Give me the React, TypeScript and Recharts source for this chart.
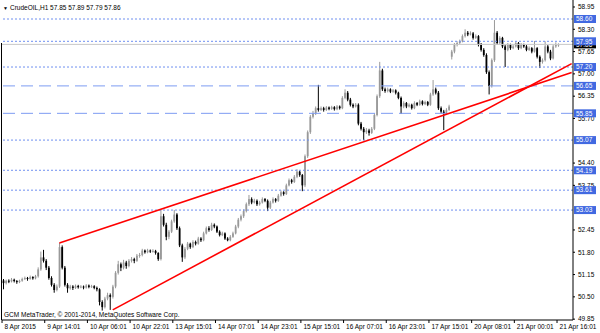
import { ComposedChart, Bar, XAxis, YAxis, ReferenceLine } from "recharts";

// CrudeOIL H1 candles
const OPEN = [
  50.98, 50.9, 50.97, 50.95, 51.0, 50.96, 50.93, 50.97, 51.02, 51.05,
  51.02, 51.08, 51.04, 51.1, 51.3, 51.65, 51.55, 51.35, 51.05, 50.85,
  50.7, 50.8, 51.95, 51.35, 50.85, 50.75, 50.8, 50.76, 50.82, 50.78,
  50.8, 50.77, 50.83, 50.79, 50.81, 50.76, 50.72, 50.35, 50.2, 50.45,
  50.55, 50.5, 50.8, 51.2, 51.45, 51.35, 51.5, 51.4, 51.55, 51.6,
  51.55, 51.7, 51.72, 51.85, 51.8, 51.85, 51.82, 51.84, 51.78, 51.6,
  52.85, 52.6, 52.25, 52.4, 52.7, 52.9, 52.5, 52.0, 51.65, 51.9,
  52.05, 51.95, 52.1, 52.05, 52.2, 52.15, 52.35, 52.5, 52.45, 52.6,
  52.55, 52.4, 52.3, 52.35, 52.2, 52.15, 52.25, 52.35, 52.55, 52.75,
  52.85, 53.0, 53.2, 53.35, 53.25, 53.3, 53.2, 53.25, 53.35, 53.3,
  53.1, 53.25, 53.35, 53.3, 53.45, 53.55, 53.5, 53.75, 53.9, 53.85,
  54.0, 54.15, 54.05, 53.75, 54.6, 55.3, 55.75, 55.85, 56.0, 55.95,
  56.0, 55.95, 56.02, 55.98, 56.03, 55.97, 56.05, 56.0, 56.3, 56.45,
  56.25, 56.1, 56.05, 56.1, 55.55, 55.4, 55.3, 55.35, 55.28, 55.4,
  55.8, 56.35, 57.1, 56.55, 56.5, 56.55, 56.48, 56.52, 56.45, 56.3,
  56.05, 56.15, 56.05, 56.1, 56.0, 56.15, 56.1, 56.2, 56.12, 56.18,
  56.1, 56.4, 56.55, 56.45, 56.0, 55.9, 55.85, 55.95, 57.5, 57.65,
  57.85, 57.9, 57.95, 58.1, 58.2, 58.15, 58.18, 58.05, 58.1, 57.85,
  57.7, 57.55, 57.05, 56.65, 57.4, 58.2, 57.9, 58.05, 57.8, 57.7,
  57.85, 57.75, 57.8, 57.9, 57.75, 57.85, 57.8, 57.7, 57.75, 57.65,
  57.75, 57.5, 57.35, 57.4, 57.8, 57.65, 57.45, 57.8, 57.85,
];
const HIGH = [
  51.02, 51.0, 51.01, 51.05, 51.03, 50.99, 51.0, 51.06, 51.09, 51.08,
  51.12, 51.1, 51.14, 51.36, 51.82, 51.87, 51.6, 51.4, 51.1, 50.9,
  50.86, 52.07, 52.0, 51.4, 50.9, 50.85, 50.84, 50.86, 50.85, 50.84,
  50.83, 50.87, 50.86, 50.85, 50.84, 50.8, 50.75, 50.4, 50.5, 50.62,
  50.6, 50.85, 51.25, 51.55, 51.5, 51.58, 51.55, 51.6, 51.66, 51.64,
  51.75, 51.78, 51.9, 51.88, 51.9, 51.88, 51.89, 51.87, 51.8, 53.03,
  52.92, 52.66, 52.45, 52.75, 53.03, 52.94, 52.55, 52.05, 51.95, 52.1,
  52.08, 52.15, 52.14, 52.25, 52.24, 52.4, 52.55, 52.56, 52.66, 52.64,
  52.58, 52.44, 52.4, 52.38, 52.24, 52.3, 52.4, 52.6, 52.8, 52.9,
  53.05, 53.25, 53.47, 53.4, 53.36, 53.34, 53.3, 53.4, 53.38, 53.34,
  53.3, 53.4, 53.38, 53.5, 53.6, 53.58, 53.8, 53.95, 53.94, 54.05,
  54.22, 54.18, 54.08, 54.65, 55.35, 55.8, 55.92, 56.05, 56.68, 56.05,
  56.04, 56.06, 56.05, 56.07, 56.06, 56.09, 56.08, 56.35, 56.55, 56.5,
  56.3, 56.14, 56.15, 56.14, 55.6, 55.45, 55.42, 55.4, 55.45, 55.85,
  56.4, 57.35, 57.15, 56.6, 56.6, 56.58, 56.56, 56.55, 56.48, 56.34,
  56.2, 56.18, 56.14, 56.13, 56.2, 56.18, 56.25, 56.23, 56.22, 56.21,
  56.45, 56.82, 56.6, 56.5, 56.05, 55.95, 56.0, 56.1, 57.7, 57.9,
  57.95, 58.0, 58.15, 58.3, 58.25, 58.24, 58.22, 58.15, 58.13, 57.9,
  57.75, 57.6, 57.1, 57.45, 58.57, 58.25, 58.1, 58.08, 57.85, 57.9,
  57.88, 57.85, 57.95, 57.93, 57.9, 57.88, 57.84, 57.8, 57.78, 57.96,
  57.78, 57.54, 57.45, 57.95, 57.84, 57.7, 57.85, 57.92, 57.89,
];
const LOW = [
  50.72, 50.86, 50.9, 50.92, 50.92, 50.88, 50.9, 50.94, 50.99, 50.97,
  51.0, 51.0, 51.01, 51.06, 51.26, 51.5, 51.28, 51.0, 50.8, 50.62,
  50.66, 50.76, 51.3, 50.8, 50.62, 50.71, 50.7, 50.73, 50.74, 50.75,
  50.72, 50.74, 50.75, 50.76, 50.72, 50.66, 50.25, 50.1, 50.16, 50.4,
  50.12, 50.45, 50.75, 51.15, 51.25, 51.3, 51.32, 51.36, 51.5, 51.48,
  51.52, 51.64, 51.68, 51.76, 51.77, 51.78, 51.79, 51.73, 51.55, 51.56,
  52.55, 52.15, 52.18, 52.36, 52.66, 52.45, 51.95, 51.52, 51.6, 51.86,
  51.9, 51.92, 52.0, 52.02, 52.1, 52.12, 52.32, 52.4, 52.42, 52.5,
  52.36, 52.26, 52.27, 52.16, 52.12, 52.12, 52.22, 52.32, 52.5, 52.7,
  52.8, 52.96, 53.15, 53.2, 53.22, 53.15, 53.16, 53.22, 53.26, 53.0,
  53.06, 53.22, 53.25, 53.27, 53.42, 53.45, 53.47, 53.72, 53.8, 53.82,
  53.96, 54.0, 53.58, 53.7, 54.55, 55.25, 55.7, 55.8, 55.9, 55.92,
  55.9, 55.92, 55.94, 55.95, 55.93, 55.94, 55.96, 55.97, 56.26, 56.2,
  56.05, 56.0, 56.02, 55.5, 55.35, 55.07, 55.25, 55.2, 55.25, 55.36,
  55.76, 56.3, 56.5, 56.45, 56.46, 56.44, 56.45, 56.4, 56.26, 55.83,
  56.0, 56.0, 56.02, 55.96, 55.97, 56.06, 56.07, 56.08, 56.09, 56.06,
  56.07, 56.36, 56.4, 55.95, 55.85, 55.36, 55.8, 55.92, 57.42, 57.6,
  57.8, 57.86, 57.92, 58.06, 58.1, 58.12, 58.0, 58.02, 57.8, 57.65,
  57.5, 57.0, 56.4, 56.6, 57.35, 57.85, 57.86, 57.75, 57.2, 57.66,
  57.7, 57.72, 57.77, 57.7, 57.72, 57.76, 57.66, 57.67, 57.6, 57.62,
  57.45, 57.17, 57.3, 57.36, 57.6, 57.4, 57.42, 57.76, 57.79,
];
const CLOSE = [
  50.9, 50.97, 50.95, 51.0, 50.96, 50.93, 50.97, 51.02, 51.05, 51.02,
  51.08, 51.04, 51.1, 51.3, 51.65, 51.55, 51.35, 51.05, 50.85, 50.7,
  50.8, 51.95, 51.35, 50.85, 50.75, 50.8, 50.76, 50.82, 50.78, 50.8,
  50.77, 50.83, 50.79, 50.81, 50.76, 50.72, 50.35, 50.2, 50.45, 50.55,
  50.5, 50.8, 51.2, 51.45, 51.35, 51.5, 51.4, 51.55, 51.6, 51.55,
  51.7, 51.72, 51.85, 51.8, 51.85, 51.82, 51.84, 51.78, 51.6, 52.85,
  52.6, 52.25, 52.4, 52.7, 52.9, 52.5, 52.0, 51.65, 51.9, 52.05,
  51.95, 52.1, 52.05, 52.2, 52.15, 52.35, 52.5, 52.45, 52.6, 52.55,
  52.4, 52.3, 52.35, 52.2, 52.15, 52.25, 52.35, 52.55, 52.75, 52.85,
  53.0, 53.2, 53.35, 53.25, 53.3, 53.2, 53.25, 53.35, 53.3, 53.1,
  53.25, 53.35, 53.3, 53.45, 53.55, 53.5, 53.75, 53.9, 53.85, 54.0,
  54.15, 54.05, 53.75, 54.6, 55.3, 55.75, 55.85, 56.0, 55.95, 56.0,
  55.95, 56.02, 55.98, 56.03, 55.97, 56.05, 56.0, 56.3, 56.45, 56.25,
  56.1, 56.05, 56.1, 55.55, 55.4, 55.3, 55.35, 55.28, 55.4, 55.8,
  56.35, 57.1, 56.55, 56.5, 56.55, 56.48, 56.52, 56.45, 56.3, 56.05,
  56.15, 56.05, 56.1, 56.0, 56.15, 56.1, 56.2, 56.12, 56.18, 56.1,
  56.4, 56.55, 56.45, 56.0, 55.9, 55.85, 55.95, 56.05, 57.65, 57.85,
  57.9, 57.95, 58.1, 58.2, 58.15, 58.18, 58.05, 58.1, 57.85, 57.7,
  57.55, 57.05, 56.65, 57.4, 58.2, 57.9, 58.05, 57.8, 57.7, 57.85,
  57.75, 57.8, 57.9, 57.75, 57.85, 57.8, 57.7, 57.75, 57.65, 57.75,
  57.5, 57.35, 57.4, 57.8, 57.65, 57.45, 57.8, 57.85, 57.86,
];

// one label every 16 bars
const TIME_LABELS = [
  "8 Apr 2015", "9 Apr 14:01", "10 Apr 06:01", "10 Apr 22:01", "13 Apr 15:01",
  "14 Apr 07:01", "14 Apr 23:01", "15 Apr 15:01", "16 Apr 07:01", "16 Apr 23:01",
  "17 Apr 15:01", "20 Apr 08:01", "21 Apr 00:01", "21 Apr 16:01",
];
const PRICE_TICKS = [58.95, 58.3, 57.65, 57.0, 56.35, 55.7, 54.4, 53.75, 52.45, 51.8, 51.15, 50.5, 49.85];
const DOTTED_LEVELS = [58.6, 57.95, 57.2, 55.07, 54.19, 53.61, 53.03];
const DASHED_LEVELS = [56.65, 55.85];
const LAST_PRICE = 57.86;
const TREND_UPPER = [{ bar: 21, price: 52.07 }, { bar: 213, price: 57.04 }];
const TREND_LOWER = [{ bar: 41, price: 50.12 }, { bar: 213, price: 57.3 }];
const EMPTY_BARS = 5; // chart shift on the right

const data = [
  ...OPEN.map((o, i) => ({ i, o, h: HIGH[i], l: LOW[i], c: CLOSE[i], range: [LOW[i], HIGH[i]] })),
  ...Array.from({ length: EMPTY_BARS }, (_, k) => ({ i: OPEN.length + k })),
];

const FONT = "Liberation Sans, Arial, sans-serif";
const LEVELS = [...DOTTED_LEVELS, ...DASHED_LEVELS];

function Candle(props: any) {
  const { x, y, width, height, payload } = props;
  if (!payload || payload.h == null) return null;
  const { o, h, l, c } = payload;
  const k = h > l ? height / (h - l) : 0;
  const cx = x + width / 2;
  const col = c >= o ? "#999999" : "#000000";
  const top = y + (h - Math.max(o, c)) * k;
  const bh = Math.max(Math.abs(c - o) * k, 1);
  return (
    <g>
      <line x1={cx} x2={cx} y1={y} y2={y + Math.max(height, 1)} stroke={col} strokeWidth={1} />
      <rect x={cx - 0.9} y={top} width={1.8} height={bh} fill={col} />
    </g>
  );
}

function TimeTick(props: any) {
  const { x, y, payload } = props;
  const label = TIME_LABELS[payload.value / 16];
  if (!label) return null;
  const tx = x - 1.3;
  return (
    <g>
      <line x1={tx} x2={tx} y1={y} y2={y + 3} stroke="#000" />
      <text x={tx + 2.5} y={y + 9} fontSize={6.5} fontFamily={FONT} fill="#000" textAnchor="start">
        {label}
      </text>
    </g>
  );
}

function PriceTick(props: any) {
  const { x, y, payload } = props;
  const v = payload.value;
  if (LEVELS.includes(v) || v === LAST_PRICE) {
    return (
      <g>
        <rect x={x + 1} y={y - 4} width={22} height={8} fill={v === LAST_PRICE ? "#000" : "#4169e1"} />
        <text x={x + 3} y={y + 2.3} fontSize={6.5} fontFamily={FONT} fill="#fff">
          {v.toFixed(2)}
        </text>
      </g>
    );
  }
  return (
    <g>
      <line x1={x} x2={x + 2} y1={y} y2={y} stroke="#000" />
      <text x={x + 5} y={y + 2.3} fontSize={6.5} fontFamily={FONT} fill="#000">
        {v.toFixed(2)}
      </text>
    </g>
  );
}

export default function App() {
  return (
    <div style={{ position: "fixed", left: 0, top: 0, width: 600, height: 333, background: "#fff" }}>
      <ComposedChart
        width={600}
        height={333}
        data={data}
        margin={{ top: 0, right: 0, bottom: 0, left: 2 }}
        barCategoryGap={0}
      >
        <XAxis
          dataKey="i"
          height={13}
          ticks={TIME_LABELS.map((_, k) => k * 16)}
          interval={0}
          tick={<TimeTick />}
          tickLine={false}
          tickSize={0}
          tickMargin={0}
          axisLine={{ stroke: "#000" }}
        />
        <YAxis
          orientation="right"
          width={27}
          type="number"
          domain={[49.825, 59.154]}
          allowDataOverflow
          ticks={[...PRICE_TICKS, LAST_PRICE, ...LEVELS]}
          interval={0}
          tick={<PriceTick />}
          tickLine={false}
          tickSize={0}
          tickMargin={0}
          axisLine={{ stroke: "#000" }}
        />
        <ReferenceLine y={LAST_PRICE} stroke="#c8c8c8" />
        {DOTTED_LEVELS.map((v) => (
          <ReferenceLine key={v} y={v} stroke="#6f8ff0" strokeDasharray="2 2" />
        ))}
        {DASHED_LEVELS.map((v) => (
          <ReferenceLine key={v} y={v} stroke="#7d9cf2" strokeDasharray="12 6" />
        ))}
        <Bar dataKey="range" shape={<Candle />} isAnimationActive={false} />
        <ReferenceLine
          segment={TREND_UPPER.map((p) => ({ x: p.bar, y: p.price }))}
          stroke="#ff0000"
          strokeWidth={1.6}
        />
        <ReferenceLine
          segment={TREND_LOWER.map((p) => ({ x: p.bar, y: p.price }))}
          stroke="#ff0000"
          strokeWidth={1.6}
        />
      </ComposedChart>
      <svg width={600} height={333} style={{ position: "absolute", left: 0, top: 0, pointerEvents: "none" }}>
        <line x1={1.5} x2={1.5} y1={43} y2={320} stroke="#000" />
        <text x={3} y={9.5} fontSize={5} fontFamily={FONT} fill="#000">▼</text>
        <text x={10} y={9.5} fontSize={6.5} fontFamily={FONT} fill="#000">
          CrudeOIL,H1  57.85 57.89 57.79 57.86
        </text>
        <text x={4} y={317} fontSize={6.5} fontFamily={FONT} fill="#000">
          GCM MetaTrader, © 2001-2014, MetaQuotes Software Corp.
        </text>
      </svg>
    </div>
  );
}
